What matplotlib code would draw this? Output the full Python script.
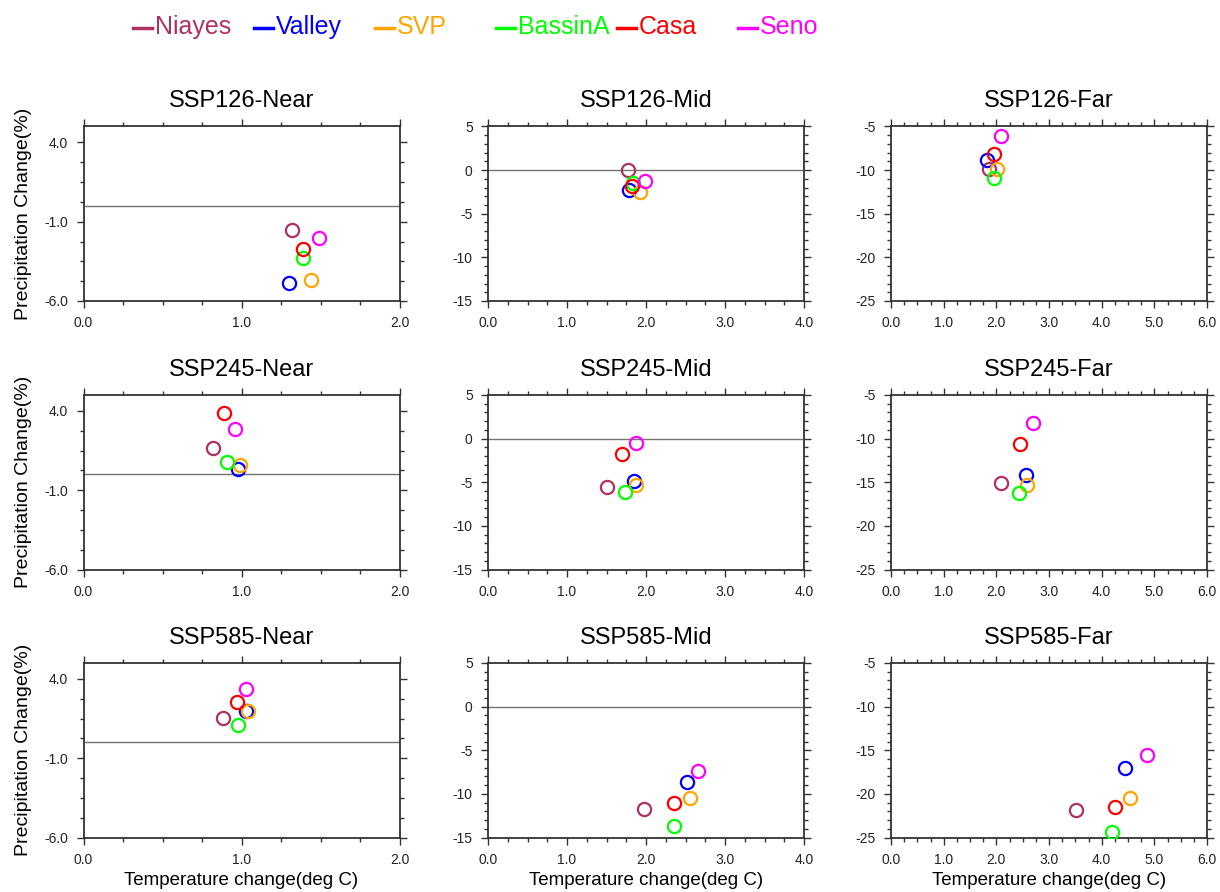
import numpy as np
import matplotlib
matplotlib.use("Agg")
import matplotlib.pyplot as plt
from matplotlib.lines import Line2D
from matplotlib.ticker import MultipleLocator, FormatStrFormatter

plt.rcParams['font.family'] = ['Liberation Sans', 'DejaVu Sans']

# Regions and their colours (same order in every array below)
regions = ["Niayes", "Valley", "SVP", "BassinA", "Casa", "Seno"]
colors = ["#b03060", "#0000ff", "#ffa500", "#00ff00", "#ff0000", "#ff00ff"]

# Temperature change (deg C) and precipitation change (%) per scenario / period
ssp126_near_dt = [1.32, 1.30, 1.44, 1.39, 1.39, 1.49]
ssp126_near_dp = [-1.53, -4.86, -4.65, -3.28, -2.75, -2.05]
ssp126_mid_dt = [1.77, 1.78, 1.92, 1.84, 1.82, 1.99]
ssp126_mid_dp = [0.0, -2.30, -2.48, -1.53, -1.83, -1.26]
ssp126_far_dt = [1.87, 1.83, 2.01, 1.96, 1.96, 2.09]
ssp126_far_dp = [-9.84, -8.88, -9.91, -10.91, -8.11, -6.07]

ssp245_near_dt = [0.82, 0.98, 0.99, 0.91, 0.89, 0.96]
ssp245_near_dp = [1.66, 0.35, 0.60, 0.77, 3.89, 2.86]
ssp245_mid_dt = [1.51, 1.85, 1.87, 1.73, 1.70, 1.87]
ssp245_mid_dp = [-5.57, -4.88, -5.26, -6.07, -1.80, -0.50]
ssp245_far_dt = [2.09, 2.56, 2.59, 2.43, 2.44, 2.70]
ssp245_far_dp = [-15.06, -14.14, -15.29, -16.24, -10.66, -8.21]

ssp585_near_dt = [0.88, 1.03, 1.04, 0.98, 0.97, 1.03]
ssp585_near_dp = [1.54, 2.00, 1.97, 1.09, 2.53, 3.33]
ssp585_mid_dt = [1.98, 2.52, 2.56, 2.35, 2.36, 2.66]
ssp585_mid_dp = [-11.75, -8.60, -10.44, -13.63, -11.06, -7.37]
ssp585_far_dt = [3.52, 4.44, 4.54, 4.19, 4.26, 4.86]
ssp585_far_dp = [-21.89, -17.05, -20.43, -24.39, -21.50, -15.60]

scenarios = ["SSP126", "SSP245", "SSP585"]
periods = ["Near", "Mid", "Far"]

panels = [
    [(ssp126_near_dt, ssp126_near_dp), (ssp126_mid_dt, ssp126_mid_dp), (ssp126_far_dt, ssp126_far_dp)],
    [(ssp245_near_dt, ssp245_near_dp), (ssp245_mid_dt, ssp245_mid_dp), (ssp245_far_dt, ssp245_far_dp)],
    [(ssp585_near_dt, ssp585_near_dp), (ssp585_mid_dt, ssp585_mid_dp), (ssp585_far_dt, ssp585_far_dp)],
]

# axis setup for each period column: xlim, ylim, y major, y minor, y format
col_setup = [
    ((0, 2), (-6, 5), 5.0, 1.25, "%.1f"),
    ((0, 4), (-15, 5), 5.0, 1.0, "%d"),
    ((0, 6), (-25, -5), 5.0, 1.0, "%d"),
]

W, H = 1220, 892
fig = plt.figure(figsize=(W / 100, H / 100), dpi=100)

col_left = [83.5, 488, 891]
row_top = [126.5, 395, 663]
ax_w, ax_h = 316, 174.5

for r in range(3):
    for c in range(3):
        left = col_left[c] / W
        bottom = 1 - (row_top[r] + ax_h) / H
        ax = fig.add_axes([left, bottom, ax_w / W, ax_h / H])
        (xl, yl, ymaj, ymin, yfmt) = col_setup[c]
        dt, dp = panels[r][c]

        if yl[0] < 0 < yl[1]:
            ax.axhline(0, color="0.45", lw=1.0, zorder=1)

        for i in range(len(regions)):
            ax.plot(dt[i], dp[i], "o", ms=9.5, mfc="none", mec=colors[i],
                    mew=1.6, zorder=3)

        ax.set_xlim(*xl)
        ax.set_ylim(*yl)
        ax.xaxis.set_major_locator(MultipleLocator(1.0))
        ax.xaxis.set_minor_locator(MultipleLocator(0.25))
        ax.xaxis.set_major_formatter(FormatStrFormatter("%.1f"))
        if c == 0:
            ax.set_yticks([-6, -1, 4])
            ax.set_yticks(np.arange(-6, 5.01, ymin), minor=True)
        else:
            ax.yaxis.set_major_locator(MultipleLocator(ymaj))
            ax.yaxis.set_minor_locator(MultipleLocator(ymin))
        ax.yaxis.set_major_formatter(FormatStrFormatter(yfmt))

        ax.tick_params(which="both", direction="out", top=True, right=True,
                       color="#333333", width=1.0)
        ax.tick_params(which="major", length=5, labelsize=10, pad=6,
                       labelcolor="#222222")
        ax.tick_params(which="minor", length=3)
        for sp in ax.spines.values():
            sp.set_linewidth(1.3)
            sp.set_color("#333333")

        ax.set_title(f"{scenarios[r]}-{periods[c]}", fontsize=17, pad=14)
        if c == 0:
            ax.set_ylabel("Precipitation Change(%)", fontsize=14, labelpad=9)
        if r == 2:
            ax.set_xlabel("Temperature change(deg C)", fontsize=13.5, labelpad=4)

# legend row across the top
leg_y = 1 - 28 / H
for i, name in enumerate(regions):
    x0 = (133 + 121 * i) / W
    fig.add_artist(Line2D([x0, x0 + 19 / W], [leg_y, leg_y], color=colors[i],
                          lw=2.5, transform=fig.transFigure))
    fig.text(x0 + 22 / W, 1 - 27 / H, name, color=colors[i], fontsize=18,
             va="center", ha="left")

fig.savefig("out.png", dpi=100)
